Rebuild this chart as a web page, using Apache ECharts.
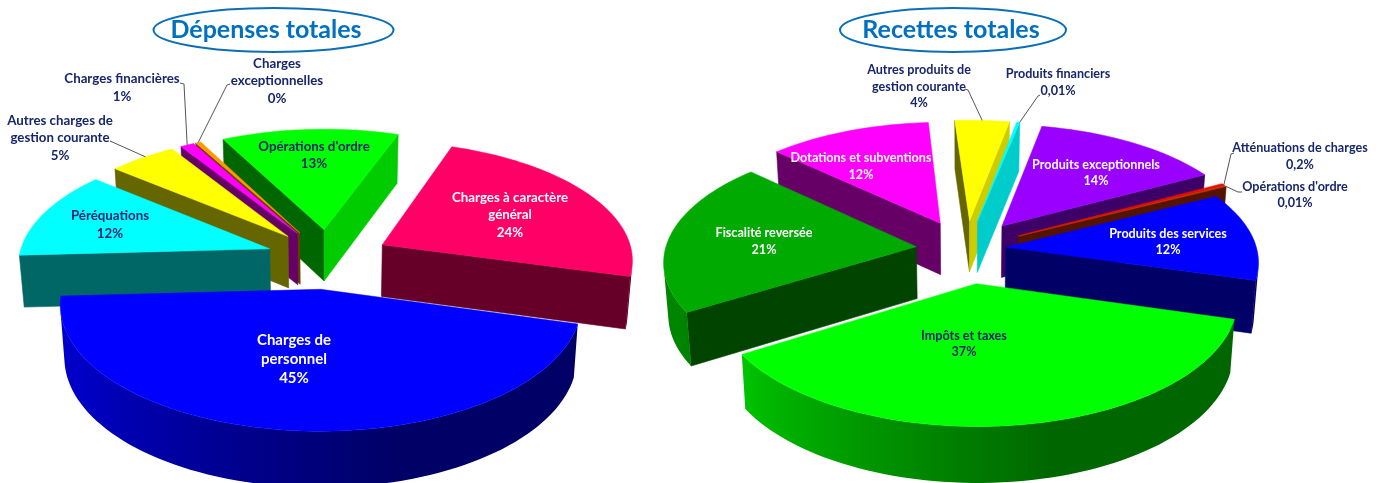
<!DOCTYPE html>
<html lang="fr">
<head>
<meta charset="utf-8">
<title>Dépenses et recettes totales</title>
<style>
html,body{margin:0;padding:0;background:#fff}
#chart{width:1380px;height:483px}
</style>
<script src="https://cdn.jsdelivr.net/npm/echarts@6/dist/echarts.min.js"></script>
</head>
<body>
<div id="chart"></div>
<script>
// Expenses
const expenseTitle = 'Dépenses totales';
const expenseCategories = ['Charges à caractère\ngénéral', 'Charges de\npersonnel', 'Péréquations',
  'Autres charges de\ngestion courante', 'Charges financières', 'Charges\nexceptionnelles', "Opérations d'ordre"];
const expenseValues = [24, 45, 12, 5, 1, 0.4, 13];
const expenseColors = ['#ff0066', '#0000ff', '#00ffff', '#ffff00', '#ff00ff', '#ff9900', '#00ff00'];

// Revenues
const revenueTitle = 'Recettes totales';
const revenueCategories = ['Produits des services', 'Impôts et taxes', 'Fiscalité reversée', 'Dotations et subventions',
  'Autres produits de\ngestion courante', 'Produits financiers', 'Produits exceptionnels', 'Atténuations de charges', "Opérations d'ordre"];
const revenueValues = [12, 37, 21, 12, 4, 0.01, 14, 0.2, 0.01];
const revenueColors = ['#0000ff', '#00ff00', '#00aa00', '#ff00ff', '#ffff00', '#00ffff', '#9900ff', '#ff0000', '#cc3300'];

const NAVY = '#17266e', WHITE = '#ffffff';

// Layout of each pie: projection, explosion per slice and where its captions sit.
const expensePie = {
  title: expenseTitle, names: expenseCategories, values: expenseValues, colors: expenseColors,
  percent: v => Math.round(v) + '%',
  cx: 328, cy: 258, R: 251, k: 0.47, depth: 52, persp: 2200, start: 19.5, minAngle: 0,
  explode: [62, 65, 62, 62, 62, 62, 62],
  captions: [[510, 215, WHITE, 13.3], [294, 359, WHITE, 15], [110, 224.5, NAVY, 13.3], [60, 138, NAVY, 13.3],
    [122, 87.5, NAVY, 13.3], [277, 81, NAVY, 13.3], [314, 155, NAVY, 13.3]],
  leaders: [null, null, null, [[110, 141]], [[184, 84], [180, 83]], [[227, 85], [230, 84]], null],
  leaderAt: [0, 0, 0, 0.5, 0.5, 0.5, 0],
  heading: { x: 273.5, y: 30, rx: 120, ry: 22, tx: 266 }
};
const revenuePie = {
  title: revenueTitle, names: revenueCategories, values: revenueValues, colors: revenueColors,
  percent: v => String(v).replace('.', ',') + '%',
  cx: 966, cy: 249, R: 251, k: 0.47, depth: 52, persp: 2200, start: 63, minAngle: 0.8,
  explode: [40, 72, 50, 62, 62, 62, 62, 60, 60],
  captions: [[1168, 242, WHITE, 12.6], [964, 344, NAVY, 12.6], [764, 241.5, WHITE, 12.6], [861, 166.5, WHITE, 12.6],
    [919, 86.5, NAVY, 12.6], [1058, 82.5, NAVY, 12.6], [1096, 173, WHITE, 12.6], [1300, 156.5, NAVY, 12.6], [1295, 195, NAVY, 12.6]],
  leaders: [null, null, null, null, [[968, 90], [965, 89]], [[1038, 96], [1040, 95]], null, [[1231, 154], [1234, 153]], [[1238, 192], [1242, 192]]],
  leaderAt: [0, 0, 0, 0, 0.5, 1, 0, 1, 1],
  heading: { x: 953, y: 30, rx: 113, ry: 22, tx: 951 }
};

// Slice boundaries in degrees, clockwise from the back of the pie.
function sliceAngles(pie) {
  const total = pie.values.reduce((a, b) => a + b, 0);
  const raw = pie.values.map(v => Math.max(v / total * 360, pie.minAngle));
  const scale = 360 / raw.reduce((a, b) => a + b, 0);
  let a = pie.start;
  return raw.map(d => { const s = a; a += d * scale; return [s, a]; });
}

// Ground plane to screen: X right, Y towards the viewer, Z downwards.
function projector(pie) {
  return (X, Y, Z) => {
    const s = 1 / (1 - Y / pie.persp);
    return [pie.cx + X * s * (1 - Z * 0.0003), pie.cy + pie.k * Y * s + Z * (1 + (s - 1) * 0.5)];
  };
}

function shade(hex, f) {
  const n = parseInt(hex.slice(1), 16);
  const c = [(n >> 16) & 255, (n >> 8) & 255, n & 255].map(v => Math.round(v * f));
  return 'rgb(' + c.join(',') + ')';
}

// Rim brightness: dim on the right and the back, brightening towards the front left.
function rimShade(deg) {
  const t = ((deg % 360) + 360) % 360;
  if (t > 272 || t < 165) return 0.4;
  return Math.min(0.78, 0.4 + (t - 165) / 75 * 0.38);
}

function sliceGeometry(pie, i) {
  const [a0, a1] = sliceAngles(pie)[i];
  const mid = (a0 + a1) / 2 * Math.PI / 180;
  const ox = Math.sin(mid) * pie.explode[i], oy = -Math.cos(mid) * pie.explode[i];
  const rim = [];
  const n = Math.max(2, Math.ceil((a1 - a0) / 2));
  for (let j = 0; j <= n; j++) {
    const t = (a0 + (a1 - a0) * j / n) * Math.PI / 180;
    rim.push([ox + Math.sin(t) * pie.R, oy - Math.cos(t) * pie.R]);
  }
  return { ox, oy, rim, a0, a1, n };
}

function signedArea(pts) {
  let s = 0;
  pts.forEach((p, i) => { const q = pts[(i + 1) % pts.length]; s += p[0] * q[1] - q[0] * p[1]; });
  return s / 2;
}

function renderSlice(pie) {
  const project = projector(pie);
  return function (params, api) {
    const i = api.value(0);
    const g = sliceGeometry(pie, i);
    const color = pie.colors[i];
    const children = [];
    const quad = (a, b) => [project(a[0], a[1], 0), project(b[0], b[1], 0), project(b[0], b[1], pie.depth), project(a[0], a[1], pie.depth)];
    // Flat radial face, kept only when turned to the viewer.
    const wall = (a, b, f) => {
      const pts = quad(a, b);
      if (signedArea(pts) <= 0) return;
      const fill = shade(color, f);
      children.push({ type: 'polygon', shape: { points: pts }, style: { fill, stroke: fill, lineWidth: 0.6 }, silent: true });
    };
    const apex = [g.ox, g.oy];
    const first = g.rim[0], last = g.rim[g.rim.length - 1];
    // Radial faces: lit when turned to the right, dark otherwise.
    const lit = deg => Math.cos(deg * Math.PI / 180) > 0.6 ? 0.8 : 0.4;
    wall(first, apex, lit(g.a0 + 180));
    wall(apex, last, lit(g.a1));

    // Outer rim: the visible stretch becomes one polygon with a left-to-right gradient.
    const upper = [], lower = [], tones = [];
    for (let j = 0; j < g.n; j++) {
      const pts = quad(g.rim[j + 1], g.rim[j]);
      if (signedArea(pts) <= 0) continue;
      if (!upper.length) { upper.push(pts[1]); lower.push(pts[2]); }
      upper.push(pts[0]);
      lower.push(pts[3]);
      tones.push([(pts[0][0] + pts[1][0]) / 2, rimShade(g.a0 + (g.a1 - g.a0) * (j + 0.5) / g.n)]);
    }
    if (upper.length) {
      const xs = upper.map(p => p[0]);
      const xMin = Math.min(...xs), xMax = Math.max(...xs);
      const span = Math.max(1, xMax - xMin);
      const colorStops = tones.sort((a, b) => a[0] - b[0])
        .map(t => ({ offset: Math.min(1, Math.max(0, (t[0] - xMin) / span)), color: shade(color, t[1]) }));
      const fill = { type: 'linear', x: xMin, y: 0, x2: xMax, y2: 0, global: true, colorStops };
      children.push({ type: 'polygon', shape: { points: upper.concat(lower.reverse()) }, style: { fill }, silent: true });
    }

    // Top face.
    const top = [project(apex[0], apex[1], 0)].concat(g.rim.map(p => project(p[0], p[1], 0)));
    children.push({ type: 'polygon', shape: { points: top }, style: { fill: color, stroke: color, lineWidth: 0.5 }, silent: true });
    return { type: 'group', children };
  };
}

// Captions and leader lines of a pie.
function renderCaption(pie) {
  const project = projector(pie);
  return function (params, api) {
    const i = api.value(0);
    const [x, y, fill, size] = pie.captions[i];
    const children = [];
    if (pie.leaders[i]) {
      const g = sliceGeometry(pie, i);
      const idx = Math.round((g.rim.length - 1) * pie.leaderAt[i]);
      const end = project(g.rim[idx][0], g.rim[idx][1], 0);
      const pts = [end].concat(pie.leaders[i]);
      children.push({ type: 'polyline', shape: { points: pts }, style: { stroke: '#555555', lineWidth: 1, fill: 'none' }, silent: true });
    }
    children.push({
      type: 'text', x, y, silent: true,
      style: {
        text: pie.names[i] + '\n' + pie.percent(pie.values[i]),
        fill, align: 'center', verticalAlign: 'middle',
        font: 'bold ' + size + 'px Lato', lineHeight: size + 4.2
      }
    });
    return { type: 'group', children };
  };
}

function headingGraphics(pie) {
  const h = pie.heading;
  return [
    { type: 'ellipse', shape: { cx: h.x, cy: h.y, rx: h.rx, ry: h.ry }, style: { fill: '#ffffff', stroke: '#0b6fb8', lineWidth: 2 }, silent: true },
    { type: 'text', x: h.tx, y: h.y, silent: true, style: { text: pie.title, fill: '#0070c0', align: 'center', verticalAlign: 'middle', font: 'bold 25px Lato' } }
  ];
}

// Back slices first so nearer ones paint over them.
function depthOrder(pie) {
  return pie.values.map((_, i) => i).sort((a, b) => sliceGeometry(pie, a).oy - sliceGeometry(pie, b).oy);
}

function seriesFor(pie) {
  const rows = depthOrder(pie).map(i => [i]);
  return [
    { type: 'custom', coordinateSystem: 'none', renderItem: renderSlice(pie), data: rows, z: 2, silent: true, animation: false },
    { type: 'custom', coordinateSystem: 'none', renderItem: renderCaption(pie), data: rows, z: 3, silent: true, animation: false }
  ];
}

const chart = echarts.init(document.getElementById('chart'), null, { renderer: 'canvas' });
chart.setOption({
  backgroundColor: '#ffffff',
  animation: false,
  tooltip: { show: false },
  series: [...seriesFor(expensePie), ...seriesFor(revenuePie)],
  graphic: { elements: [...headingGraphics(expensePie), ...headingGraphics(revenuePie)] }
});
</script>
</body>
</html>
